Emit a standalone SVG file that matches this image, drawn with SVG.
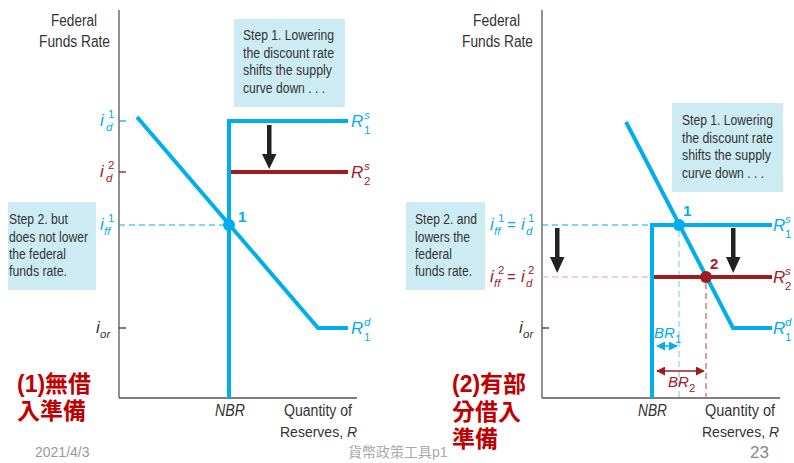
<svg xmlns="http://www.w3.org/2000/svg" width="794" height="463" viewBox="0 0 794 463">
<defs>
<style>
.ax{stroke:#555;stroke-width:1.3;fill:none}
.box{fill:#CDEBF3}
.bt{font-family:"Liberation Sans",Arial,sans-serif;font-size:14px;fill:#333}
.at{font-family:"Liberation Sans",Arial,sans-serif;font-size:16px;fill:#333}
.at2{font-family:"Liberation Sans",Arial,sans-serif;font-size:14px;fill:#333}
.it{font-family:"Liberation Sans",Arial,sans-serif;font-style:italic}
.up{font-family:"Liberation Sans",Arial,sans-serif;font-style:normal}
.big{font-size:17px}
.sm{font-size:11.5px}
.blue{fill:#00AEEF}
.red{fill:#A3192B}
.blk{fill:#333}
.sb{stroke:#00AEEF;stroke-width:4;fill:none}
.sr{stroke:#9E1B20;stroke-width:4;fill:none}
.db{stroke:#00AEEF;stroke-width:1.2;stroke-dasharray:6 4;fill:none}
.cj{font-family:"Liberation Sans","Noto Sans CJK TC",sans-serif;font-weight:bold;font-size:23px;fill:#C00000}
.ft{font-family:"Liberation Sans","Noto Sans CJK TC",sans-serif}
.num{font-family:"Liberation Sans",Arial,sans-serif;font-weight:bold;font-size:15px}
</style>
<marker id="ab" viewBox="0 0 10 10" refX="9" refY="5" markerWidth="6" markerHeight="6" orient="auto-start-reverse"><path d="M0,0 L10,5 L0,10 z" fill="#00AEEF"/></marker>
<marker id="ar" viewBox="0 0 10 10" refX="9" refY="5" markerWidth="6" markerHeight="6" orient="auto-start-reverse"><path d="M0,0 L10,5 L0,10 z" fill="#9E1B20"/></marker>
</defs>

<!-- LEFT PANEL -->
<g id="left-axes">
<line class="ax" x1="119" y1="10" x2="119" y2="398"/>
<line class="ax" x1="119" y1="398" x2="357" y2="398"/>
<line x1="119" y1="121" x2="126" y2="121" stroke="#00AEEF" stroke-width="1.3"/>
<line x1="119" y1="172" x2="126" y2="172" stroke="#9E1B20" stroke-width="1.3"/>
<line x1="119" y1="328" x2="126" y2="328" stroke="#333" stroke-width="1.3"/>
<text class="at" x="51" y="26" textLength="46" lengthAdjust="spacingAndGlyphs">Federal</text>
<text class="at" x="39" y="47" textLength="71" lengthAdjust="spacingAndGlyphs">Funds Rate</text>
<text class="at it" x="215" y="416" textLength="30" lengthAdjust="spacingAndGlyphs">NBR</text>
<text class="at" x="284" y="416" textLength="68" lengthAdjust="spacingAndGlyphs">Quantity of</text>
<text class="at2" x="280" y="437">Reserves, <tspan class="it">R</tspan></text>
</g>
<g id="left-ylabels">
<text class="it blue"><tspan class="big" x="100" y="126">i</tspan><tspan class="sm" x="106" y="131">d</tspan><tspan class="sm up" x="108" y="118">1</tspan></text>
<text class="it red"><tspan class="big" x="100" y="177">i</tspan><tspan class="sm" x="106" y="182">d</tspan><tspan class="sm up" x="108" y="169">2</tspan></text>
<text class="it blue"><tspan class="big" x="100" y="230">i</tspan><tspan class="sm" x="104" y="235">ff</tspan><tspan class="sm up" x="108" y="222">1</tspan></text>
<text class="it blk"><tspan class="big" x="96" y="333">i</tspan><tspan class="sm" x="100" y="338">or</tspan></text>
</g>
<g id="left-step1">
<rect class="box" x="234" y="19" width="111" height="88"/>
<text class="bt" x="243" y="40" textLength="91" lengthAdjust="spacingAndGlyphs">Step 1. Lowering</text>
<text class="bt" x="243" y="58" textLength="91" lengthAdjust="spacingAndGlyphs">the discount rate</text>
<text class="bt" x="243" y="75" textLength="89" lengthAdjust="spacingAndGlyphs">shifts the supply</text>
<text class="bt" x="243" y="93" textLength="82" lengthAdjust="spacingAndGlyphs">curve down . . .</text>
</g>
<g id="left-step2">
<rect class="box" x="8" y="202" width="88" height="88"/>
<text class="bt" x="9" y="224" textLength="59" lengthAdjust="spacingAndGlyphs">Step 2. but</text>
<text class="bt" x="9" y="242" textLength="79" lengthAdjust="spacingAndGlyphs">does not lower</text>
<text class="bt" x="9" y="259" textLength="57" lengthAdjust="spacingAndGlyphs">the federal</text>
<text class="bt" x="9" y="276" textLength="58" lengthAdjust="spacingAndGlyphs">funds rate.</text>
</g>
<g id="left-connectors">
<line class="db" x1="119" y1="225" x2="229" y2="225"/>
<path class="sb" d="M229,398 V121 H348"/>
<path class="sr" d="M231,172 H348"/>
<path class="sb" d="M137,117 L318,328 H348"/>
<rect x="267" y="125" width="4.5" height="31" fill="#222"/>
<polygon points="262,154 276.5,154 269.2,169" fill="#222"/>
</g>
<g id="left-point1">
<circle cx="229" cy="225" r="6" fill="#00AEEF"/>
<text class="num blue" x="238" y="222">1</text>
</g>
<g id="left-rlabels">
<text class="it blue"><tspan class="big" x="351" y="127">R</tspan><tspan class="sm" x="364" y="119">s</tspan><tspan class="sm up" x="364" y="134">1</tspan></text>
<text class="it red"><tspan class="big" x="351" y="178">R</tspan><tspan class="sm" x="364" y="170">s</tspan><tspan class="sm up" x="364" y="185">2</tspan></text>
<text class="it blue"><tspan class="big" x="351" y="334">R</tspan><tspan class="sm" x="364" y="326">d</tspan><tspan class="sm up" x="364" y="341">1</tspan></text>
</g>
<g id="left-title">
<text class="cj" x="17" y="392">(1)無借</text>
<text class="cj" x="17" y="419">入準備</text>
</g>

<!-- RIGHT PANEL -->
<g id="right-axes">
<line class="ax" x1="542" y1="10" x2="542" y2="398"/>
<line class="ax" x1="542" y1="398" x2="780" y2="398"/>
<line x1="542" y1="328" x2="549" y2="328" stroke="#333" stroke-width="1.3"/>
<text class="at" x="473" y="26" textLength="47" lengthAdjust="spacingAndGlyphs">Federal</text>
<text class="at" x="462" y="47" textLength="71" lengthAdjust="spacingAndGlyphs">Funds Rate</text>
<text class="at it" x="638" y="416" textLength="29" lengthAdjust="spacingAndGlyphs">NBR</text>
<text class="at" x="705" y="416" textLength="70" lengthAdjust="spacingAndGlyphs">Quantity of</text>
<text class="at2" x="702" y="437">Reserves, <tspan class="it">R</tspan></text>
</g>
<g id="right-ylabels">
<text class="it blue"><tspan class="big" x="490" y="230">i</tspan><tspan class="sm" x="494" y="235">ff</tspan><tspan class="sm up" x="498" y="222">1</tspan><tspan class="up" font-size="15" x="507" y="230">=</tspan><tspan class="big" x="521" y="230">i</tspan><tspan class="sm" x="526" y="235">d</tspan><tspan class="sm up" x="528" y="222">1</tspan></text>
<text class="it red"><tspan class="big" x="490" y="282">i</tspan><tspan class="sm" x="494" y="287">ff</tspan><tspan class="sm up" x="498" y="274">2</tspan><tspan class="up" font-size="15" x="507" y="282">=</tspan><tspan class="big" x="521" y="282">i</tspan><tspan class="sm" x="526" y="287">d</tspan><tspan class="sm up" x="528" y="274">2</tspan></text>
<text class="it blk"><tspan class="big" x="519" y="333">i</tspan><tspan class="sm" x="523" y="338">or</tspan></text>
</g>
<g id="right-step1">
<rect class="box" x="672" y="103" width="111" height="89"/>
<text class="bt" x="682" y="125" textLength="91" lengthAdjust="spacingAndGlyphs">Step 1. Lowering</text>
<text class="bt" x="682" y="143" textLength="91" lengthAdjust="spacingAndGlyphs">the discount rate</text>
<text class="bt" x="682" y="160" textLength="89" lengthAdjust="spacingAndGlyphs">shifts the supply</text>
<text class="bt" x="682" y="178" textLength="82" lengthAdjust="spacingAndGlyphs">curve down . . .</text>
</g>
<g id="right-step2">
<rect class="box" x="406" y="202" width="79" height="88"/>
<text class="bt" x="415" y="224" textLength="62" lengthAdjust="spacingAndGlyphs">Step 2. and</text>
<text class="bt" x="415" y="242" textLength="55" lengthAdjust="spacingAndGlyphs">lowers the</text>
<text class="bt" x="415" y="259" textLength="37" lengthAdjust="spacingAndGlyphs">federal</text>
<text class="bt" x="415" y="276" textLength="57" lengthAdjust="spacingAndGlyphs">funds rate.</text>
</g>
<g id="right-connectors">
<line class="db" x1="542" y1="225" x2="652" y2="225"/>
<line x1="542" y1="277" x2="652" y2="277" stroke="#E8A3A3" stroke-width="1.2" stroke-dasharray="6 4"/>
<line x1="679" y1="231" x2="679" y2="398" stroke="#8ED6F2" stroke-width="1.3" stroke-dasharray="6 4"/>
<line x1="706" y1="283" x2="706" y2="398" stroke="#C86C6C" stroke-width="1.3" stroke-dasharray="6 4"/>
<path class="sb" d="M652,398 V225 H772"/>
<path class="sr" d="M654,277 H772"/>
<path class="sb" d="M626,122 L733,328 H772"/>
<rect x="555" y="228" width="4.5" height="31" fill="#222"/>
<polygon points="550,257 564.5,257 557.2,273" fill="#222"/>
<rect x="731" y="228" width="4.5" height="31" fill="#222"/>
<polygon points="726,257 740.5,257 733.2,273" fill="#222"/>
<line x1="657" y1="346" x2="677" y2="346" stroke="#00AEEF" stroke-width="1.5" marker-start="url(#ab)" marker-end="url(#ab)"/>
<line x1="657" y1="371" x2="704" y2="371" stroke="#9E1B20" stroke-width="1.5" marker-start="url(#ar)" marker-end="url(#ar)"/>
<text class="it blue"><tspan font-size="15" x="654" y="338">BR</tspan><tspan class="sm up" x="675" y="343">1</tspan></text>
<text class="it red"><tspan font-size="15" x="668" y="387">BR</tspan><tspan class="sm up" x="689" y="392">2</tspan></text>
</g>
<g id="right-point1">
<circle cx="679" cy="225" r="6" fill="#00AEEF"/>
<text class="num blue" x="683" y="216">1</text>
</g>
<g id="right-point2">
<circle cx="706" cy="277" r="6" fill="#9E1B20"/>
<text class="num red" x="710" y="269">2</text>
</g>
<g id="right-rlabels">
<text class="it blue"><tspan class="big" x="773" y="231">R</tspan><tspan class="sm" x="785" y="223">s</tspan><tspan class="sm up" x="785" y="238">1</tspan></text>
<text class="it red"><tspan class="big" x="773" y="283">R</tspan><tspan class="sm" x="785" y="275">s</tspan><tspan class="sm up" x="785" y="290">2</tspan></text>
<text class="it blue"><tspan class="big" x="773" y="334">R</tspan><tspan class="sm" x="785" y="326">d</tspan><tspan class="sm up" x="785" y="341">1</tspan></text>
</g>
<g id="right-title">
<text class="cj" x="452" y="392">(2)有部</text>
<text class="cj" x="452" y="420">分借入</text>
<text class="cj" x="452" y="447">準備</text>
</g>

<g id="footer">
<text class="ft" x="35" y="457" font-size="14" fill="#999">2021/4/3</text>
<text class="ft" x="348" y="457" font-size="14" fill="#aaa">貨幣政策工具p1</text>
<text class="ft" x="750" y="458" font-size="17" fill="#888">23</text>
</g>
</svg>
